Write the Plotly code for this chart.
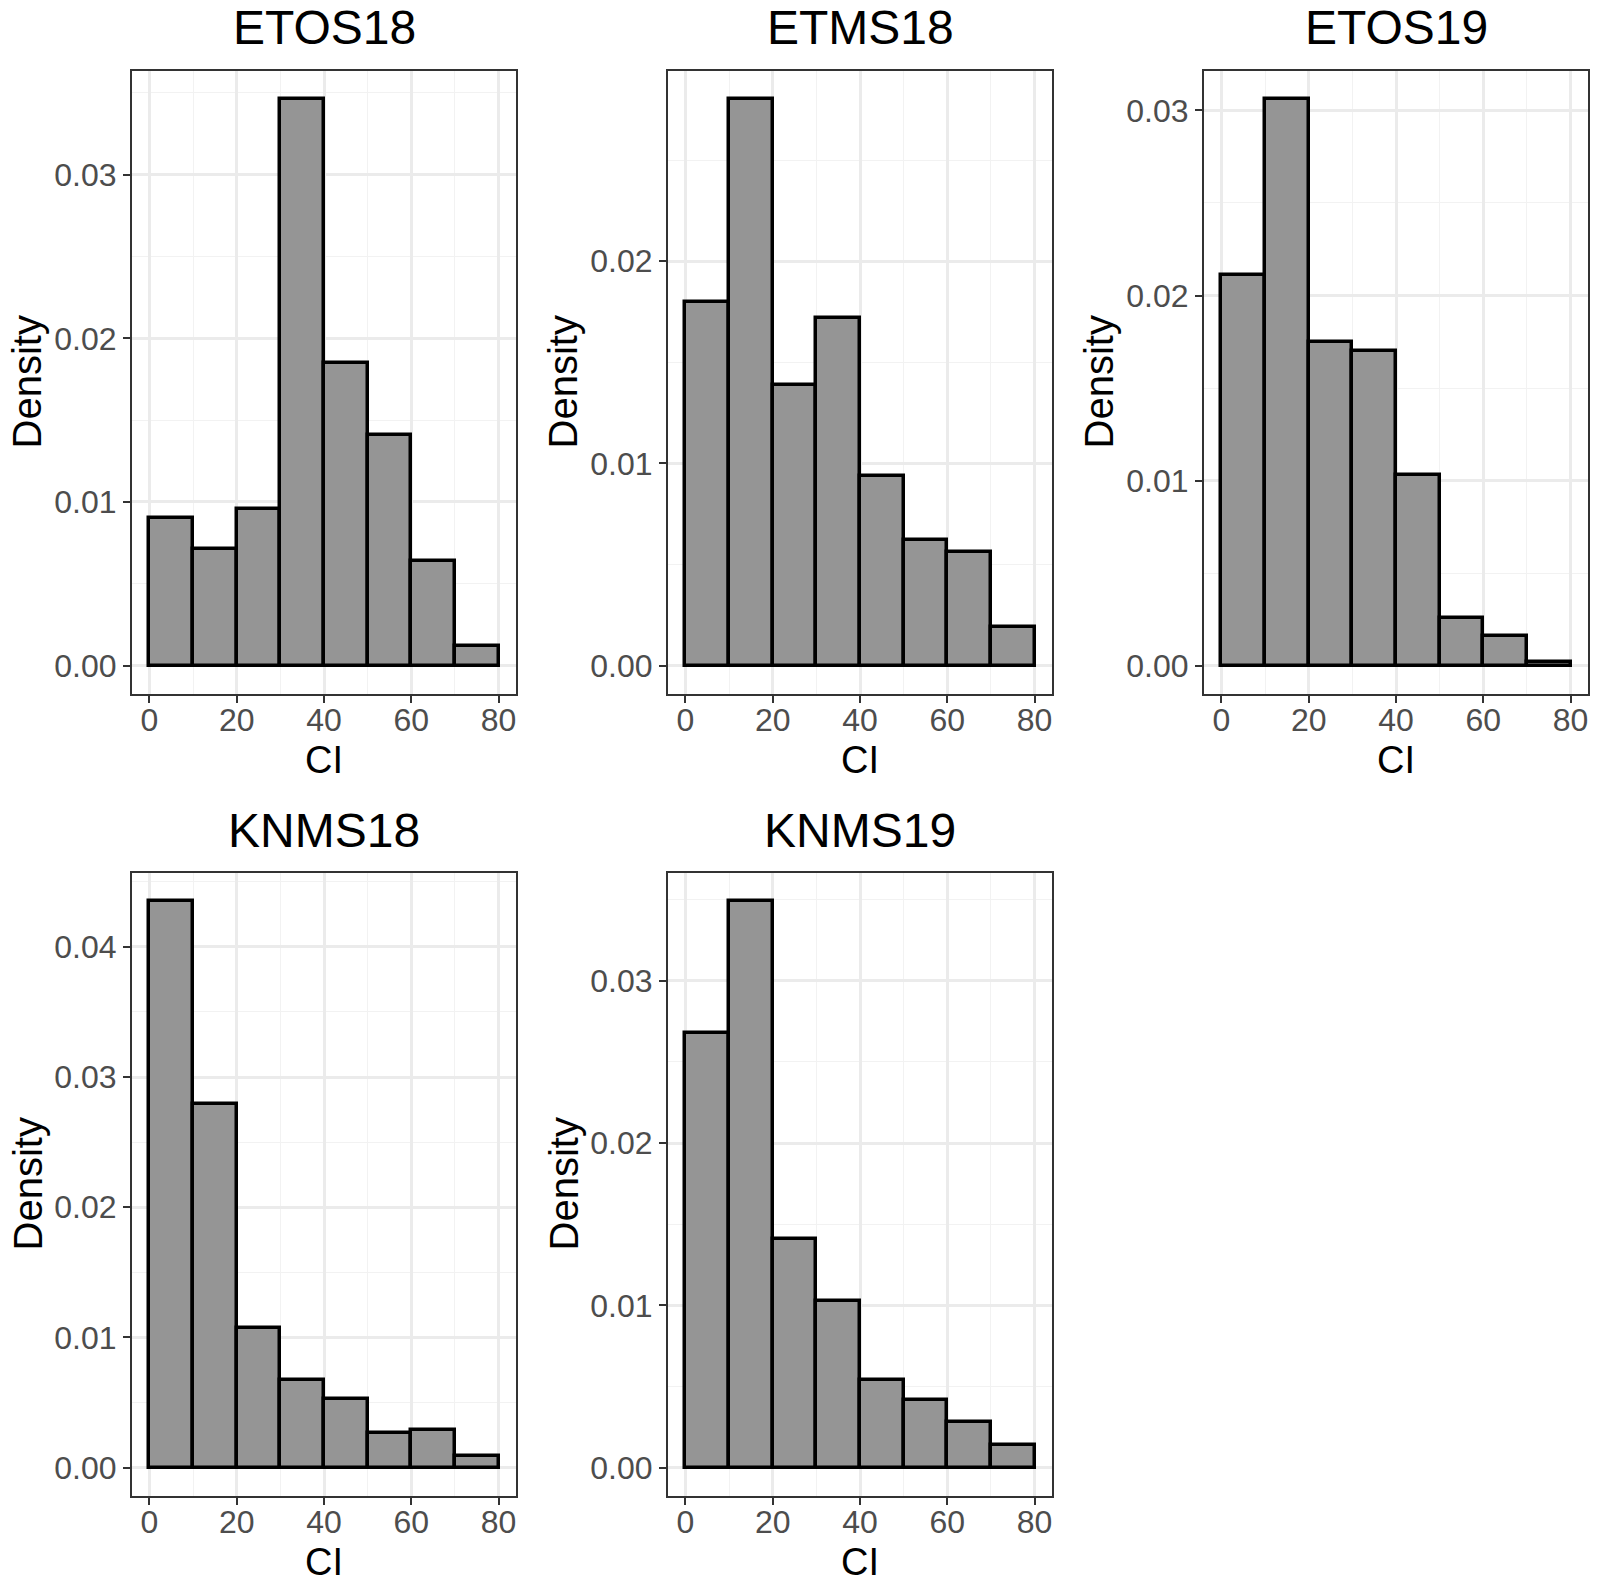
import plotly.graph_objects as go

# ---- data ----
panel_names = ["ETOS18", "ETMS18", "ETOS19", "KNMS18", "KNMS19"]
bin_edges = [0, 10, 20, 30, 40, 50, 60, 70, 80]
x_ticks = [0, 20, 40, 60, 80]

density_ETOS18 = [0.0090, 0.0071, 0.0096, 0.0346, 0.0185, 0.0141, 0.0064, 0.0012]
density_ETMS18 = [0.0180, 0.0280, 0.0139, 0.0172, 0.0094, 0.0062, 0.0056, 0.0019]
density_ETOS19 = [0.0211, 0.0306, 0.0175, 0.0170, 0.0103, 0.0026, 0.0016, 0.0002]
density_KNMS18 = [0.0435, 0.0279, 0.0107, 0.0067, 0.0053, 0.0027, 0.0029, 0.0009]
density_KNMS19 = [0.0268, 0.0349, 0.0141, 0.0103, 0.0054, 0.0042, 0.0028, 0.0014]

all_density = [density_ETOS18, density_ETMS18, density_ETOS19, density_KNMS18, density_KNMS19]

# ---- layout constants (page pixels) ----
W, H = 1600, 1584
col_x = [(132, 516), (668, 1052), (1204, 1588)]
row_y = [(71, 694), (873, 1496)]
FONT = "Liberation Sans, Arial, Helvetica, sans-serif"

fig = go.Figure()
annotations = []

centers = [(bin_edges[i] + bin_edges[i + 1]) / 2 for i in range(len(bin_edges) - 1)]
widths = [bin_edges[i + 1] - bin_edges[i] for i in range(len(bin_edges) - 1)]


def px(v):
    return v / W


def py(v):
    return 1 - v / H


for k, (name, dens) in enumerate(zip(panel_names, all_density)):
    r, c = divmod(k, 3)
    x0, x1 = col_x[c]
    y0, y1 = row_y[r]
    ax_id = "" if k == 0 else str(k + 1)
    fig.add_trace(go.Bar(
        x=centers, y=dens, width=widths,
        marker=dict(color="#959595", line=dict(color="black", width=3.5)),
        xaxis="x" + ax_id, yaxis="y" + ax_id, showlegend=False,
    ))
    ymax = max(dens)
    xmin, xmax = bin_edges[0], bin_edges[-1]
    xr = xmax - xmin
    common = dict(
        showline=True, mirror=True, linecolor="#333333", linewidth=2,
        ticks="outside", ticklen=7, tickwidth=2, tickcolor="#333333",
        showgrid=True, gridcolor="#ebebeb", gridwidth=2.5,
        zeroline=False,
        tickfont=dict(family=FONT, size=32, color="#4d4d4d"),
    )
    fig.update_layout(**{
        "xaxis" + ax_id: dict(
            domain=[px(x0), px(x1)],
            range=[xmin - 0.05 * xr, xmax + 0.05 * xr],
            tickmode="array", tickvals=x_ticks,
            ticklabelstandoff=-10,
            minor=dict(dtick=10, tick0=0, showgrid=True, gridcolor="#f2f2f2", gridwidth=1.3, ticks=""),
            anchor="y" + ax_id,
            **common,
        ),
        "yaxis" + ax_id: dict(
            domain=[py(y1), py(y0)],
            range=[-0.05 * ymax, 1.05 * ymax],
            tick0=0, dtick=0.01, tickformat=".2f",
            minor=dict(dtick=0.005, tick0=0, showgrid=True, gridcolor="#f2f2f2", gridwidth=1.3, ticks=""),
            anchor="x" + ax_id,
            **common,
        ),
    })
    cx = px((x0 + x1) / 2)
    # panel title
    annotations.append(dict(
        text=name, x=cx, y=py(y0 - 43), xref="paper", yref="paper",
        xanchor="center", yanchor="middle", showarrow=False,
        font=dict(family=FONT, size=48, color="black"),
    ))
    # x axis title
    annotations.append(dict(
        text="CI", x=cx, y=py(y1 + 66), xref="paper", yref="paper",
        xanchor="center", yanchor="middle", showarrow=False,
        font=dict(family=FONT, size=38, color="black"),
    ))
    # y axis title
    annotations.append(dict(
        text="Density", x=px(x0 - 105), y=py((y0 + y1) / 2), xref="paper", yref="paper",
        xanchor="center", yanchor="middle", showarrow=False, textangle=-90,
        font=dict(family=FONT, size=40, color="black"),
    ))

fig.update_layout(
    width=W, height=H,
    margin=dict(l=0, r=0, t=0, b=0),
    paper_bgcolor="white", plot_bgcolor="white",
    bargap=0,
    annotations=annotations,
    font=dict(family=FONT),
)

fig.write_html(
    "out.html",
    config={"displayModeBar": False},
    post_script="document.body.style.margin='0';document.body.style.overflow='hidden';",
)
